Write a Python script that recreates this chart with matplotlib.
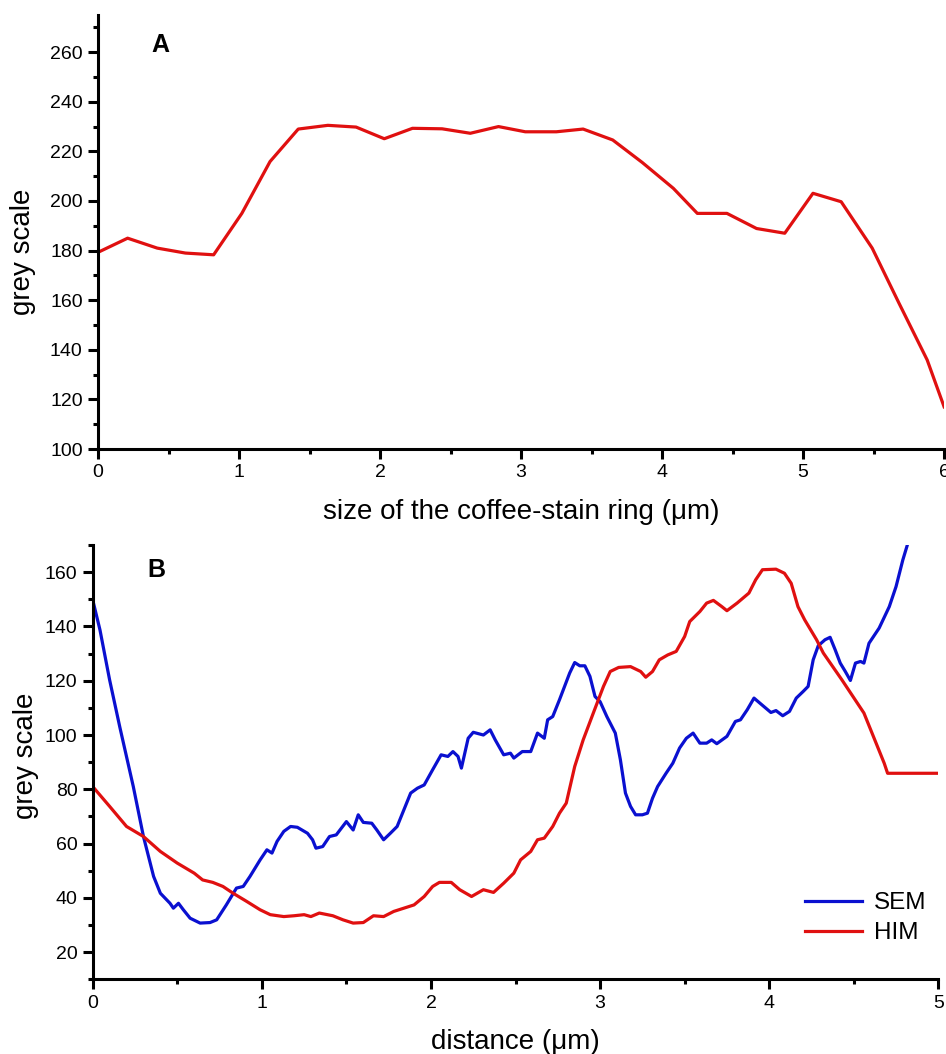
import matplotlib
matplotlib.use("Agg")
import matplotlib.pyplot as plt
from matplotlib.ticker import MultipleLocator

plt.rcParams['font.family'] = ['Liberation Sans', 'DejaVu Sans']

# panel A: coffee-stain ring profile
ring_x = [0.0, 0.21, 0.42, 0.62, 0.82, 1.02, 1.22, 1.42, 1.63, 1.83, 2.03, 2.23,
          2.44, 2.64, 2.84, 3.03, 3.25, 3.44, 3.65, 3.86, 4.08, 4.25, 4.46, 4.67,
          4.87, 5.07, 5.27, 5.49, 5.68, 5.88, 6.0]
ring_y = [179.3, 185, 181, 179, 178.3, 195, 215.9, 229, 230.5, 229.8, 225.1, 229.3,
          229.1, 227.3, 230, 227.9, 227.9, 229, 224.6, 215.5, 205.1, 195, 195, 188.9,
          187, 203.1, 199.7, 181, 158.8, 135.9, 117]

# panel B: SEM vs HIM profiles
sem_x = [0.0, 0.043, 0.10, 0.16, 0.24, 0.30, 0.36, 0.40, 0.457, 0.477, 0.507, 0.536,
         0.576, 0.635, 0.694, 0.733, 0.79, 0.85, 0.89, 0.93, 0.99, 1.03, 1.06, 1.09,
         1.13, 1.17, 1.21, 1.27, 1.30, 1.32, 1.36, 1.40, 1.44, 1.50, 1.54, 1.57,
         1.60, 1.65, 1.68, 1.72, 1.76, 1.80, 1.88, 1.92, 1.96, 2.01, 2.06, 2.10,
         2.13, 2.16, 2.18, 2.22, 2.25, 2.31, 2.35, 2.38, 2.43, 2.47, 2.49, 2.54,
         2.59, 2.63, 2.67, 2.69, 2.72, 2.76, 2.82, 2.85, 2.88, 2.91, 2.94, 2.97,
         3.00, 3.04, 3.09, 3.12, 3.15, 3.18, 3.21, 3.25, 3.28, 3.31, 3.34, 3.39,
         3.43, 3.47, 3.51, 3.55, 3.59, 3.63, 3.66, 3.69, 3.75, 3.80, 3.83, 3.87,
         3.91, 3.94, 4.01, 4.04, 4.08, 4.12, 4.16, 4.20, 4.23, 4.26, 4.29, 4.33,
         4.36, 4.39, 4.42, 4.45, 4.48, 4.51, 4.54, 4.56, 4.59, 4.65, 4.71, 4.75,
         4.79, 4.82]
sem_y = [149.8, 138.7, 120.3, 103, 81, 62.6, 47.9, 41.7, 38, 36.2, 38, 35.6,
         32.5, 30.7, 30.9, 31.9, 37.4, 43.6, 44.2, 47.9, 54, 57.7, 56.5, 60.8,
         64.5, 66.3, 66, 63.8, 61.4, 58.3, 58.9, 62.6, 63.2, 68.1, 65, 70.6,
         67.8, 67.5, 65, 61.4, 63.8, 66.3, 78.6, 80.4, 81.6, 87.2, 92.7, 92.1,
         93.9, 92.1, 87.8, 98.8, 101, 100, 101.9, 98.2, 92.7, 93.3, 91.5, 93.9,
         93.9, 100.7, 98.8, 105.6, 106.8, 113, 122.8, 126.7, 125.5, 125.5, 121.6, 114.2,
         112.3, 106.8, 100.7, 90.9, 78.6, 73.7, 70.6, 70.6, 71.2, 76.7, 81, 85.9,
         89.6, 95.2, 98.8, 100.7, 97, 97, 98.2, 96.8, 99.5, 105, 105.6, 109.3,
         113.6, 112, 108.3, 109, 107.1, 108.7, 113.6, 116, 117.9, 127.7, 132.9, 135.1,
         136, 131.4, 126.5, 123.4, 120.1, 126.5, 127.1, 126.5, 133.8, 139.4, 147.3, 154.7,
         164.5, 170.7]

him_x = [0.0, 0.10, 0.20, 0.30, 0.40, 0.50, 0.60, 0.65, 0.71, 0.77, 0.83, 0.91,
         0.99, 1.05, 1.13, 1.19, 1.25, 1.29, 1.34, 1.42, 1.48, 1.54, 1.60, 1.66,
         1.72, 1.78, 1.84, 1.90, 1.96, 2.01, 2.05, 2.12, 2.17, 2.24, 2.31, 2.37,
         2.43, 2.49, 2.53, 2.59, 2.63, 2.67, 2.72, 2.76, 2.80, 2.85, 2.90, 2.96,
         3.02, 3.06, 3.11, 3.18, 3.24, 3.27, 3.31, 3.35, 3.40, 3.45, 3.50, 3.53,
         3.59, 3.63, 3.67, 3.72, 3.75, 3.81, 3.88, 3.92, 3.96, 4.04, 4.09, 4.13,
         4.17, 4.21, 4.28, 4.32, 4.43, 4.56, 4.68, 4.70, 5.00]
him_y = [81, 73.7, 66.3, 62.6, 57.1, 52.8, 49.1, 46.6, 45.7, 44.2, 41.7, 38.7,
         35.6, 33.8, 33.1, 33.4, 33.8, 33.1, 34.4, 33.4, 31.9, 30.7, 30.9, 33.4,
         33.1, 35, 36.2, 37.4, 40.5, 44.2, 45.7, 45.7, 43, 40.5, 43, 42,
         45.4, 49.1, 54, 57.1, 61.4, 62, 66.3, 71.2, 74.9, 88.4, 98.2, 108.1,
         117.9, 123.4, 124.9, 125.2, 123.4, 121.3, 123.4, 127.7, 129.5, 130.8, 136.3, 141.8,
         145.5, 148.6, 149.6, 147.3, 145.8, 148.6, 152.3, 157.2, 160.9, 161.1, 159.6, 155.9,
         147.3, 142.4, 135.1, 130.2, 120.3, 108.1, 89.6, 85.9, 85.9]

red = '#e01010'
blue = '#0a10d0'

fig = plt.figure(figsize=(9.46, 10.54), dpi=100)
axA = fig.add_axes([0.1036, 0.574, 0.8944, 0.4118])
axB = fig.add_axes([0.098, 0.0709, 0.8939, 0.412])


def style(ax):
    for s in ['top', 'right']:
        ax.spines[s].set_visible(False)
    for s in ['left', 'bottom']:
        ax.spines[s].set_linewidth(2.2)
    ax.tick_params(which='major', direction='out', length=7, width=2.2,
                   labelsize=14, pad=4)
    ax.tick_params(which='minor', direction='out', length=3.8, width=2.2)
    ax.xaxis.set_major_locator(MultipleLocator(1))
    ax.xaxis.set_minor_locator(MultipleLocator(0.5))
    ax.yaxis.set_major_locator(MultipleLocator(20))
    ax.yaxis.set_minor_locator(MultipleLocator(10))


axA.plot(ring_x, ring_y, color=red, lw=2.3)
axA.set_xlim(0, 6)
axA.set_ylim(100, 275)
style(axA)
axA.set_xlabel('size of the coffee-stain ring (\u03bcm)', fontsize=20)
axA.set_ylabel('grey scale', fontsize=20)
axA.xaxis.set_label_coords(0.5, -0.115)
axA.yaxis.set_label_coords(-0.073, 0.454)
axA.text(0.0733, 0.931, 'A', transform=axA.transAxes, fontsize=18, fontweight='bold',
         va='center', ha='center')

axB.plot(sem_x, sem_y, color=blue, lw=2.3, label='SEM')
axB.plot(him_x, him_y, color=red, lw=2.3, label='HIM')
axB.set_xlim(0, 5)
axB.set_ylim(10, 170)
style(axB)
axB.set_xlabel('distance (\u03bcm)', fontsize=20)
axB.set_ylabel('grey scale', fontsize=20)
axB.xaxis.set_label_coords(0.5, -0.1145)
axB.yaxis.set_label_coords(-0.0635, 0.514)
axB.text(0.075, 0.9425, 'B', transform=axB.transAxes, fontsize=18, fontweight='bold',
         va='center', ha='center')
axB.legend(loc='upper left', bbox_to_anchor=(0.842, 0.2), frameon=False,
           fontsize=17.5, handlelength=2.35, handletextpad=0.5, labelspacing=0.32,
           borderpad=0, borderaxespad=0)

fig.savefig('out.png', dpi=100)
